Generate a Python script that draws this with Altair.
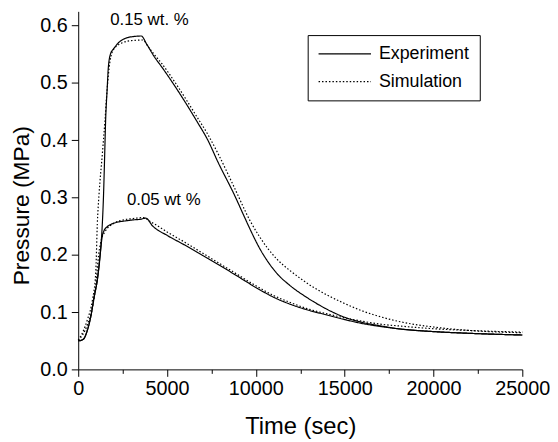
import altair as alt
import pandas as pd

# 0.15 wt.% experiment
t15_exp = [0, 200, 350, 500, 700, 900, 1075, 1250, 1350, 1420, 1490, 1540, 1630, 1690, 1820, 2000, 2200, 2750, 3100, 3550,
           3850, 4300, 4700, 5600, 6700, 7300, 7850, 8800, 9300, 9700, 10200, 10700, 11200, 11900, 12900, 14000, 15000,
           16000, 17000, 18000, 20000, 22000, 25000]
p15_exp = [0.050, 0.051, 0.055, 0.067, 0.091, 0.127, 0.156, 0.205, 0.250, 0.300, 0.375, 0.432, 0.490, 0.525, 0.551, 0.560,
           0.568, 0.579, 0.581, 0.582, 0.568, 0.545, 0.528, 0.487, 0.432, 0.400, 0.363, 0.304, 0.270, 0.243, 0.212, 0.187,
           0.167, 0.147, 0.125, 0.105, 0.091, 0.082, 0.076, 0.071, 0.066, 0.063, 0.060]

# 0.15 wt.% simulation
t15_sim = [0, 240, 520, 800, 985, 1075, 1170, 1355, 1500, 1630, 1780, 2000, 2560, 3000, 3650, 3900, 4300, 4700, 5600, 6700,
           7300, 7850, 8780, 9700, 10200, 10700, 11200, 11900, 12500, 13000, 14000, 15000, 16000, 17000, 18000, 20000,
           22000, 25000]
p15_sim = [0.051, 0.064, 0.087, 0.121, 0.168, 0.254, 0.305, 0.375, 0.432, 0.490, 0.536, 0.559, 0.571, 0.574, 0.575, 0.565,
           0.549, 0.534, 0.494, 0.440, 0.410, 0.378, 0.318, 0.258, 0.232, 0.210, 0.192, 0.173, 0.159, 0.148, 0.130, 0.115,
           0.102, 0.092, 0.084, 0.074, 0.068, 0.064]

# 0.05 wt% experiment
t05_exp = [0, 200, 350, 500, 700, 900, 1075, 1250, 1350, 1450, 1630, 1900, 2200, 2600, 3100, 3500, 3800, 4200, 5000, 6000,
           7000, 8000, 9000, 10000, 11000, 12000, 13000, 14000, 15000, 16000, 17000, 18000, 20000, 22000, 25000]
p05_exp = [0.050, 0.051, 0.055, 0.067, 0.091, 0.127, 0.156, 0.205, 0.232, 0.242, 0.249, 0.254, 0.257, 0.259, 0.261, 0.262,
           0.264, 0.250, 0.234, 0.217, 0.199, 0.181, 0.162, 0.143, 0.126, 0.113, 0.103, 0.095, 0.087, 0.080, 0.075, 0.071,
           0.066, 0.063, 0.060]

# 0.05 wt% simulation
t05_sim = [0, 240, 520, 800, 1000, 1150, 1300, 1500, 2000, 2560, 3000, 3700, 4000, 4500, 5000, 6000, 7000, 8000, 9000,
           10000, 11000, 12000, 13000, 14000, 15000, 16000, 17000, 18000, 20000, 22000, 25000]
p05_sim = [0.051, 0.060, 0.078, 0.108, 0.150, 0.200, 0.226, 0.240, 0.255, 0.261, 0.263, 0.265, 0.259, 0.250, 0.240, 0.222,
           0.203, 0.184, 0.165, 0.146, 0.129, 0.116, 0.105, 0.097, 0.090, 0.084, 0.079, 0.076, 0.071, 0.068, 0.065]

ann_text = ["0.15 wt. %", "0.05 wt %"]
ann_t = [4010, 4815]
ann_p = [0.609, 0.296]

x_ticks = list(range(0, 25001, 2500))
y_ticks = [round(i * 0.05, 2) for i in range(13)]

rows = []
for conc, kind, ts, ps in [("0.15", "Experiment", t15_exp, p15_exp), ("0.15", "Simulation", t15_sim, p15_sim),
                           ("0.05", "Experiment", t05_exp, p05_exp), ("0.05", "Simulation", t05_sim, p05_sim)]:
    for t, p in zip(ts, ps):
        rows.append({"t": t, "p": p, "kind": kind, "series": conc + kind})
df = pd.DataFrame(rows)
ann = pd.DataFrame({"text": ann_text, "t": ann_t, "p": ann_p})

FONT = "Liberation Sans"

x_enc = alt.X("t:Q", scale=alt.Scale(domain=[0, 25000], nice=False, zero=False),
              axis=alt.Axis(values=x_ticks, format="d", labelFlush=False, labelOverlap=False,
                            labelExpr="datum.value % 5000 === 0 ? datum.label : ''",
                            tickSize={"condition": {"test": "datum.value % 5000 === 0", "value": 7}, "value": 4},
                            title="Time (sec)", titleX=224.5, titleY=65, titleAlign="center",
                            titleBaseline="alphabetic", titleFontSize=24, labelFontSize=20, labelPadding=2))
y_enc = alt.Y("p:Q", scale=alt.Scale(domain=[0, 0.625], nice=False, zero=False),
              axis=alt.Axis(values=y_ticks, labelOverlap=False,
                            labelExpr="abs(datum.value * 10 - round(datum.value * 10)) < 0.001 ? format(datum.value, '.1f') : ''",
                            tickSize={"condition": {"test": "abs(datum.value * 10 - round(datum.value * 10)) < 0.001", "value": 7}, "value": 4},
                            title="Pressure (MPa)", titleX=-57, titleY=196, titleAngle=270, titleAlign="center",
                            titleBaseline="middle", titleFontSize=23, labelFontSize=20, labelPadding=4))

lines = alt.Chart(df).mark_line(interpolate="monotone", color="black", strokeWidth=1.2).encode(
    x=x_enc, y=y_enc,
    strokeDash=alt.StrokeDash("kind:N", scale=alt.Scale(domain=["Experiment", "Simulation"], range=[[1, 0], [1.5, 2]]),
                              legend=alt.Legend(title=None, orient="none", legendX=232, legendY=24,
                                                strokeColor="black", fillColor="white", padding=10,
                                                labelFontSize=18, labelFont=FONT, labelColor="black",
                                                symbolType="stroke", clipHeight=18,
                                                symbolSize=2809, symbolStrokeWidth=1.2, symbolStrokeColor="black",
                                                rowPadding=10, labelOffset=7, labelExpr="datum.label + '   '")),
    detail="series:N",
)

texts = alt.Chart(ann).mark_text(font=FONT, fontSize=17, color="black").encode(
    x="t:Q", y="p:Q", text="text:N")

chart = alt.layer(lines, texts).properties(
    width=449, height=362,
    autosize=alt.AutoSizeParams(type="none"),
    padding={"left": 71, "top": 1, "right": 28, "bottom": 70},
).configure_view(stroke=None).configure_axis(
    domainColor="black", tickColor="black", labelColor="black", titleColor="black",
    labelFont=FONT, titleFont=FONT, titleFontWeight="normal", grid=False, domainWidth=1, tickWidth=1,
)

chart.save("out.html", embed_options={"renderer": "svg", "actions": False})
